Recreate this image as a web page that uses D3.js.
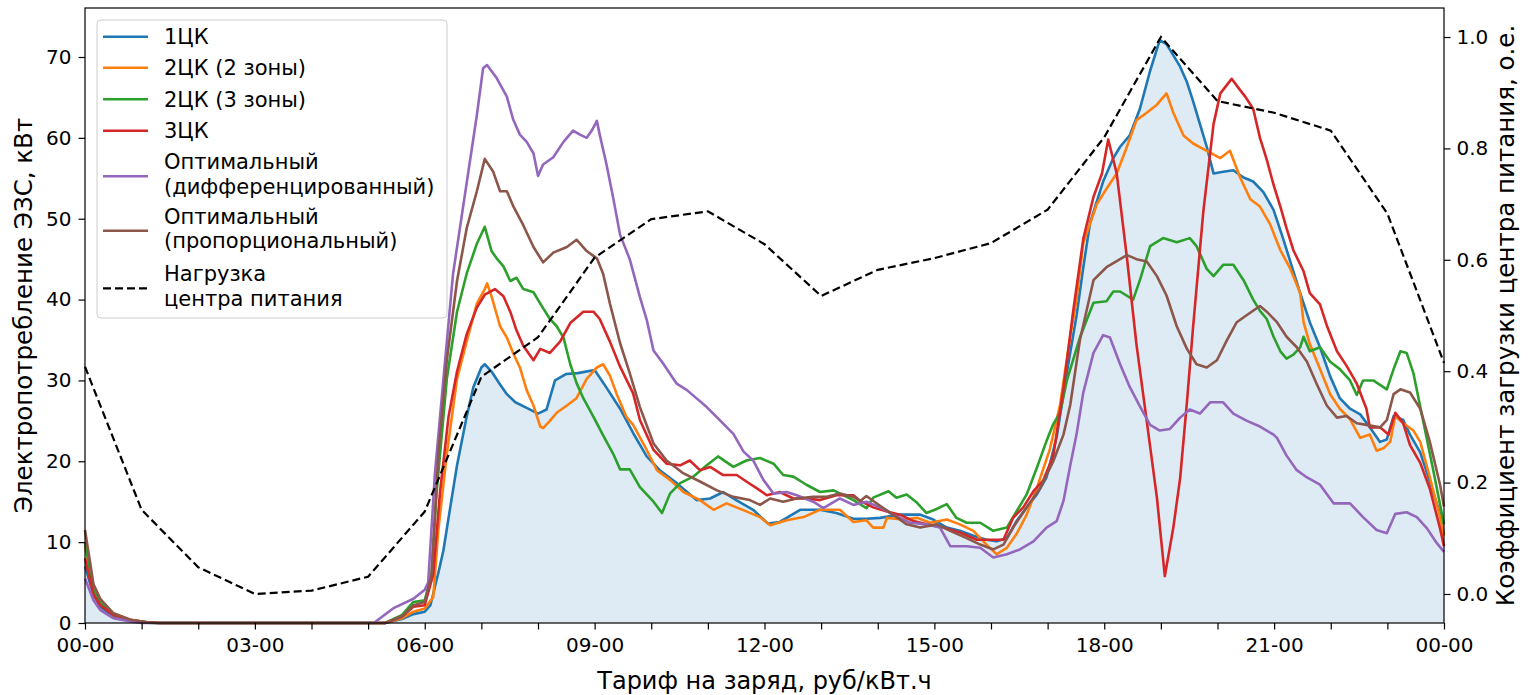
<!DOCTYPE html>
<html>
<head>
<meta charset="utf-8">
<script src="https://cdn.jsdelivr.net/npm/d3@7"></script>
<style>
  body { margin: 0; background: #fff; }
  text { font-family: "DejaVu Sans", sans-serif; fill: #000; }
</style>
</head>
<body>
<svg id="chart" width="1529" height="695"></svg>
<script>
// x tick labels, every 3 hours
var xTickLabels = ["00-00", "03-00", "06-00", "09-00", "12-00", "15-00", "18-00", "21-00", "00-00"]

// load of the supply centre, hourly (right axis)
var loadHours = d3.range(0, 25)
var loadCoef = [0.408, 0.151, 0.048, 0.0, 0.006, 0.031, 0.148, 0.39, 0.461, 0.604, 0.673, 0.687,
                0.628, 0.535, 0.582, 0.603, 0.630, 0.69, 0.82, 1.0, 0.885, 0.864, 0.832, 0.683, 0.415]

// EV charging consumption, [hour, kW]
var tariff1 = [[0,7.0],[0.15,3.5],[0.27,2.0],[0.5,0.8],[0.8,0.3],[1.1,0.05],[1.3,0],[5.3,0],[5.6,0.5],[5.8,1.1],[6.0,1.4],[6.1,2.2],[6.25,6.5],[6.33,9.0],[6.45,14.3],[6.57,19.5],[6.74,25.5],[6.86,29.2],[7.0,31.6],[7.06,32.0],[7.18,31.1],[7.33,29.5],[7.45,28.3],[7.6,27.3],[7.8,26.6],[8.0,25.9],[8.15,26.4],[8.3,30.0],[8.5,30.8],[8.7,30.9],[9.0,31.3],[9.2,29.2],[9.45,26.5],[9.68,23.5],[9.92,20.6],[10.15,18.9],[10.45,17.3],[10.8,15.2],[11.04,15.4],[11.27,16.2],[11.5,15.2],[11.8,14.0],[12.06,12.3],[12.27,12.5],[12.63,14.0],[12.98,14.0],[13.27,13.6],[13.57,12.9],[13.8,12.9],[14.04,13.0],[14.39,13.4],[14.75,13.4],[14.98,12.8],[15.22,11.8],[15.45,11.4],[15.69,10.8],[15.92,10.3],[16.1,10.1],[16.28,10.5],[16.45,12.6],[16.63,14.3],[16.81,15.9],[16.98,18.0],[17.16,23.0],[17.34,31.0],[17.51,38.0],[17.63,44.0],[17.75,49.5],[17.98,54.6],[18.16,57.5],[18.28,58.9],[18.45,60.3],[18.63,63.6],[18.81,68.3],[18.98,72.1],[19.1,71.6],[19.22,70.2],[19.34,68.8],[19.46,66.9],[19.57,64.5],[19.69,61.7],[19.81,58.9],[19.93,55.6],[20.1,55.8],[20.28,56.0],[20.46,55.1],[20.63,54.6],[20.81,53.3],[20.99,51.1],[21.16,47.5],[21.34,43.5],[21.46,40.8],[21.63,37.2],[21.81,34.1],[21.99,30.5],[22.16,27.8],[22.34,26.5],[22.52,25.8],[22.69,24.2],[22.87,22.4],[22.99,22.7],[23.11,25.6],[23.28,25.1],[23.4,23.3],[23.58,21.1],[23.75,17.5],[23.93,13.5],[24.0,11.0]]

var tariff2z2 = [[0,9.5],[0.15,4.5],[0.27,2.8],[0.5,1.2],[0.8,0.4],[1.1,0.1],[1.3,0],[5.3,0],[5.6,0.6],[5.8,1.4],[6.0,1.8],[6.15,3.2],[6.24,11.5],[6.39,20.9],[6.57,30.2],[6.74,34.8],[6.92,39.5],[7.06,41.3],[7.1,42.0],[7.18,40.4],[7.33,36.7],[7.45,35.3],[7.56,33.4],[7.68,31.6],[7.8,28.8],[7.92,26.9],[8.04,24.3],[8.09,24.1],[8.21,25.0],[8.33,26.0],[8.51,26.9],[8.68,27.8],[8.86,30.2],[9.04,31.6],[9.15,32.0],[9.27,30.6],[9.39,28.3],[9.56,25.5],[9.68,24.5],[9.92,21.4],[10.1,18.9],[10.33,17.7],[10.57,16.2],[10.86,15.2],[11.1,14.0],[11.33,14.8],[11.68,13.8],[11.92,13.1],[12.1,12.1],[12.39,12.7],[12.69,13.1],[12.98,14.0],[13.33,14.0],[13.57,12.5],[13.8,12.7],[13.92,11.8],[14.1,11.8],[14.16,13.0],[14.45,12.8],[14.7,13.0],[14.92,12.4],[15.22,12.8],[15.45,12.2],[15.69,11.4],[15.92,9.7],[16.1,8.5],[16.28,9.3],[16.45,11.0],[16.63,13.4],[16.81,16.7],[17.04,21.5],[17.22,27.0],[17.4,35.5],[17.51,40.0],[17.63,47.0],[17.87,51.8],[18.04,53.7],[18.22,55.6],[18.4,58.9],[18.57,62.2],[18.75,63.1],[18.93,64.1],[19.1,65.5],[19.22,63.1],[19.4,60.3],[19.57,59.3],[19.81,58.4],[20.05,57.5],[20.22,58.4],[20.4,55.1],[20.58,52.4],[20.75,51.5],[20.93,49.3],[21.11,46.1],[21.28,43.9],[21.46,40.8],[21.52,37.2],[21.63,34.5],[21.81,31.4],[21.99,28.3],[22.16,26.5],[22.34,25.2],[22.52,22.9],[22.69,23.3],[22.81,21.3],[22.93,21.6],[23.05,22.4],[23.14,25.6],[23.28,24.7],[23.46,23.8],[23.58,22.4],[23.75,18.0],[23.93,13.1],[24.0,10.8]]

var tariff2z3 = [[0,10.0],[0.15,4.0],[0.27,2.5],[0.5,1.0],[0.8,0.3],[1.1,0.05],[1.3,0],[5.3,0],[5.6,1.0],[5.8,2.6],[6.0,2.8],[6.12,6.0],[6.21,16.2],[6.39,30.2],[6.57,38.5],[6.74,43.2],[6.92,46.9],[7.06,49.0],[7.18,46.0],[7.27,45.1],[7.39,44.1],[7.51,42.3],[7.62,42.7],[7.74,41.3],[7.92,40.9],[8.04,39.5],[8.21,37.6],[8.33,36.7],[8.45,35.3],[8.57,32.0],[8.68,29.7],[8.8,27.8],[8.98,25.5],[9.15,23.2],[9.33,20.9],[9.45,19.0],[9.62,19.0],[9.8,16.8],[10.04,15.0],[10.19,13.6],[10.33,16.0],[10.51,17.3],[10.74,18.1],[10.98,19.5],[11.18,20.6],[11.45,19.3],[11.68,20.1],[11.92,20.4],[12.16,19.7],[12.33,18.3],[12.51,18.1],[12.74,17.1],[12.98,16.2],[13.22,16.4],[13.57,15.2],[13.8,14.2],[13.92,15.5],[14.19,16.3],[14.33,15.5],[14.51,15.9],[14.69,14.9],[14.86,13.6],[15.04,14.1],[15.22,14.7],[15.39,13.0],[15.57,12.4],[15.81,12.4],[16.04,11.4],[16.28,11.8],[16.45,13.8],[16.63,15.9],[16.81,19.2],[16.98,22.5],[17.1,24.6],[17.22,26.0],[17.34,30.0],[17.57,35.3],[17.81,39.6],[18.04,39.8],[18.16,41.0],[18.28,41.0],[18.51,40.0],[18.63,42.4],[18.81,46.6],[19.04,47.6],[19.28,47.1],[19.51,47.6],[19.63,46.6],[19.81,43.8],[19.93,42.9],[20.1,44.3],[20.28,44.3],[20.46,42.4],[20.63,40.0],[20.75,38.6],[20.87,37.6],[20.99,35.4],[21.11,33.6],[21.22,32.7],[21.34,33.2],[21.46,34.1],[21.52,35.4],[21.63,33.6],[21.81,34.1],[21.99,32.3],[22.16,31.4],[22.34,30.0],[22.46,28.2],[22.57,30.0],[22.75,30.0],[22.99,28.9],[23.11,31.4],[23.23,33.6],[23.34,33.4],[23.46,30.9],[23.64,24.7],[23.81,18.9],[24.0,12.2]]

var tariff3 = [[0,8.0],[0.15,3.5],[0.27,2.2],[0.5,1.0],[0.8,0.4],[1.1,0.1],[1.3,0],[5.3,0],[5.6,0.8],[5.8,2.0],[6.0,2.2],[6.15,6.0],[6.27,16.2],[6.42,25.5],[6.57,31.1],[6.74,35.7],[6.92,39.0],[7.06,40.6],[7.24,41.3],[7.39,40.4],[7.51,38.5],[7.62,36.2],[7.74,34.3],[7.92,32.5],[8.04,33.9],[8.21,33.4],[8.39,34.8],[8.57,37.1],[8.8,38.5],[8.98,38.5],[9.09,37.6],[9.27,34.8],[9.45,31.7],[9.68,28.4],[9.8,25.1],[10.04,21.4],[10.27,19.7],[10.51,19.5],[10.68,20.1],[10.86,18.9],[11.04,19.3],[11.27,18.3],[11.51,18.3],[11.68,17.5],[11.92,16.4],[12.04,15.8],[12.27,16.2],[12.51,15.4],[12.75,15.4],[12.98,15.2],[13.27,15.8],[13.57,15.8],[13.69,15.1],[13.92,14.3],[14.16,13.8],[14.39,13.4],[14.63,12.6],[14.86,12.2],[15.16,11.8],[15.45,11.2],[15.75,10.3],[15.98,10.3],[16.22,10.3],[16.39,13.0],[16.57,14.3],[16.75,16.3],[16.92,17.6],[17.1,20.7],[17.28,29.0],[17.45,38.5],[17.63,47.5],[17.81,52.7],[17.96,55.6],[18.07,59.8],[18.22,55.6],[18.4,45.2],[18.57,34.4],[18.75,25.0],[18.93,15.5],[19.07,5.8],[19.22,11.8],[19.34,17.9],[19.46,27.3],[19.57,36.7],[19.75,50.9],[19.93,61.7],[20.05,65.5],[20.25,67.3],[20.4,65.9],[20.49,65.1],[20.63,63.6],[20.75,60.0],[20.87,57.3],[20.99,54.2],[21.11,51.5],[21.22,48.8],[21.34,46.1],[21.52,43.5],[21.63,40.8],[21.81,39.4],[21.93,36.8],[22.11,33.6],[22.28,31.8],[22.46,29.6],[22.63,26.5],[22.69,24.2],[22.87,24.2],[23.02,23.3],[23.14,26.0],[23.28,24.7],[23.4,22.0],[23.58,19.8],[23.75,16.6],[23.93,11.7],[24.0,9.5]]

var optimalDiff = [[0,5.5],[0.15,2.8],[0.27,1.6],[0.5,0.6],[0.8,0.2],[1.0,0],[5.1,0],[5.44,1.8],[5.8,3.0],[6.0,4.1],[6.06,5.0],[6.18,18.5],[6.33,30.2],[6.5,43.2],[6.74,54.4],[6.92,62.8],[7.03,68.6],[7.1,69.0],[7.27,67.4],[7.45,65.1],[7.56,62.3],[7.68,60.4],[7.8,59.5],[7.92,58.1],[8.0,55.3],[8.09,56.7],[8.27,57.6],[8.45,59.5],[8.62,60.9],[8.74,60.4],[8.86,60.0],[8.95,60.9],[9.04,62.1],[9.09,60.4],[9.21,56.7],[9.33,52.5],[9.45,48.0],[9.62,45.0],[9.8,40.3],[9.92,37.5],[10.04,33.7],[10.21,32.1],[10.45,29.6],[10.63,28.8],[10.98,26.7],[11.21,25.1],[11.45,23.4],[11.63,21.2],[11.8,20.1],[11.98,17.7],[12.16,16.0],[12.39,16.2],[12.57,15.8],[12.86,15.0],[13.04,14.2],[13.33,15.4],[13.57,14.6],[13.8,15.0],[14.04,14.3],[14.27,13.4],[14.57,12.4],[14.86,12.2],[15.1,11.8],[15.28,9.5],[15.57,9.5],[15.81,9.3],[16.04,8.1],[16.28,8.5],[16.51,9.1],[16.75,10.1],[16.98,11.8],[17.16,12.6],[17.28,15.1],[17.4,19.5],[17.51,23.3],[17.63,28.5],[17.81,33.4],[17.98,35.6],[18.1,35.3],[18.28,32.0],[18.45,29.2],[18.63,26.8],[18.81,24.5],[18.98,23.8],[19.16,24.0],[19.34,25.4],[19.51,26.4],[19.69,25.9],[19.87,27.3],[20.1,27.3],[20.28,25.9],[20.52,25.0],[20.75,24.3],[20.99,23.3],[21.05,22.9],[21.22,20.7],[21.4,18.9],[21.58,18.0],[21.81,17.1],[22.05,14.8],[22.34,14.8],[22.57,13.1],[22.81,11.5],[22.99,11.1],[23.14,13.5],[23.34,13.7],[23.52,13.1],[23.7,11.7],[23.87,9.9],[24.0,8.8]]

var optimalProp = [[0,11.5],[0.15,4.8],[0.27,3.0],[0.5,1.2],[0.8,0.4],[1.1,0.1],[1.3,0],[5.3,0],[5.6,0.8],[5.8,2.2],[6.0,2.6],[6.12,6.0],[6.24,20.9],[6.39,32.5],[6.57,42.3],[6.74,48.8],[6.92,53.4],[7.06,57.4],[7.21,55.8],[7.33,53.4],[7.45,53.4],[7.56,51.6],[7.74,49.2],[7.92,46.5],[8.09,44.6],[8.27,45.8],[8.51,46.5],[8.68,47.4],[8.86,46.0],[9.04,45.1],[9.15,43.2],[9.27,39.5],[9.45,34.6],[9.62,30.9],[9.8,26.7],[10.04,22.2],[10.27,20.1],[10.57,18.5],[10.86,17.5],[11.16,16.4],[11.45,15.6],[11.74,15.2],[11.92,14.6],[12.1,15.4],[12.33,15.0],[12.57,15.4],[12.86,15.6],[13.1,15.6],[13.33,16.0],[13.57,15.6],[13.69,15.1],[13.8,15.7],[14.04,14.5],[14.27,13.4],[14.51,12.2],[14.75,11.8],[15.04,12.2],[15.28,11.4],[15.57,10.5],[15.81,9.7],[16.04,9.1],[16.22,9.7],[16.39,11.8],[16.63,14.3],[16.87,16.7],[17.1,20.0],[17.28,23.3],[17.4,27.0],[17.57,35.0],[17.81,42.4],[18.04,44.0],[18.28,45.0],[18.4,45.5],[18.57,45.0],[18.75,44.7],[18.93,42.9],[19.1,40.5],[19.28,36.7],[19.46,33.9],[19.63,32.0],[19.81,31.6],[19.99,32.5],[20.16,34.9],[20.34,37.2],[20.52,38.1],[20.75,39.2],[20.87,38.5],[21.05,37.2],[21.22,35.4],[21.4,34.1],[21.58,32.3],[21.75,29.6],[21.93,26.9],[22.11,25.4],[22.28,25.6],[22.46,24.7],[22.63,24.5],[22.87,24.2],[22.99,25.1],[23.11,28.3],[23.23,28.9],[23.4,28.5],[23.58,26.5],[23.75,22.4],[23.93,17.1],[24.0,14.4]]

var seriesData = [tariff1, tariff2z2, tariff2z3, tariff3, optimalDiff, optimalProp]
var seriesNames = ["1ЦК", "2ЦК (2 зоны)", "2ЦК (3 зоны)", "3ЦК",
                   "Оптимальный\n(дифференцированный)", "Оптимальный\n(пропорциональный)"]
var loadName = "Нагрузка\nцентра питания"
var colors = ["#1f77b4", "#ff7f0e", "#2ca02c", "#d62728", "#9467bd", "#8c564b"]

// layout
var margin = {top: 8, right: 85, bottom: 72, left: 85},
    W = 1529, H = 695,
    width = W - margin.left - margin.right,
    height = H - margin.top - margin.bottom

var svg = d3.select("#chart")
var g = svg.append("g").attr("transform", "translate(" + margin.left + "," + margin.top + ")")

var x = d3.scaleLinear().domain([0, 24]).range([0, width])
var y = d3.scaleLinear().domain([0, 76.06]).range([height, 0])
var y2 = d3.scaleLinear().domain([-0.0521, 1.0521]).range([height, 0])

// fill under 1ЦК
g.append("path")
  .datum(tariff1)
  .attr("fill", "#1f77b4")
  .attr("fill-opacity", 0.15)
  .attr("d", d3.area()
    .x(function(d) { return x(d[0]) })
    .y0(y(0))
    .y1(function(d) { return y(d[1]) }))

var line = d3.line()
  .x(function(d) { return x(d[0]) })
  .y(function(d) { return y(d[1]) })

seriesData.forEach(function(s, i) {
  g.append("path")
    .datum(s)
    .attr("fill", "none")
    .attr("stroke", colors[i])
    .attr("stroke-width", 2.6)
    .attr("stroke-linejoin", "round")
    .attr("d", line)
})

// load line (right axis)
var dash = "8,4"
g.append("path")
  .datum(loadHours.map(function(h, i) { return [h, loadCoef[i]] }))
  .attr("fill", "none")
  .attr("stroke", "#000")
  .attr("stroke-width", 2.2)
  .attr("stroke-dasharray", dash)
  .attr("d", d3.line()
    .x(function(d) { return x(d[0]) })
    .y(function(d) { return y2(d[1]) }))

// axes
var tickFont = 20
var xAxis = g.append("g")
  .attr("transform", "translate(0," + height + ")")
  .call(d3.axisBottom(x).tickValues(d3.range(0, 25)).tickSize(6.5).tickPadding(8.5)
    .tickFormat(function(h) { return h % 3 === 0 ? xTickLabels[h / 3] : "" }))
var yAxis = g.append("g")
  .call(d3.axisLeft(y).tickValues(d3.range(0, 71, 10)).tickSize(6.5).tickPadding(7))
var y2Axis = g.append("g")
  .attr("transform", "translate(" + width + ",0)")
  .call(d3.axisRight(y2).tickValues([0, 0.2, 0.4, 0.6, 0.8, 1.0]).tickSize(6.5).tickPadding(6)
    .tickFormat(d3.format(".1f")))

;[xAxis, yAxis, y2Axis].forEach(function(a) {
  a.select(".domain").remove()
  a.selectAll(".tick line").attr("stroke", "#000").attr("stroke-width", 1.2)
  a.selectAll(".tick text").style("font-size", tickFont + "px").attr("fill", "#000")
    .style("font-family", "DejaVu Sans")
})

// frame
g.append("rect")
  .attr("width", width).attr("height", height)
  .attr("fill", "none").attr("stroke", "#000").attr("stroke-width", 1.2)

// axis labels
svg.append("text")
  .attr("x", margin.left + width / 2).attr("y", 689)
  .attr("text-anchor", "middle").style("font-size", "24px")
  .text("Тариф на заряд, руб/кВт.ч")
svg.append("text")
  .attr("transform", "translate(32," + (margin.top + height / 2) + ") rotate(-90)")
  .attr("text-anchor", "middle").style("font-size", "24.5px")
  .text("Электропотребление ЭЗС, кВт")
svg.append("text")
  .attr("transform", "translate(1514," + (margin.top + height / 2) + ") rotate(-90)")
  .attr("text-anchor", "middle").style("font-size", "24.5px")
  .text("Коэффициент загрузки центра питания, о.е.")

// legend
var legend = svg.append("g").attr("transform", "translate(97,20)")
legend.append("rect")
  .attr("width", 350).attr("height", 298).attr("rx", 4)
  .attr("fill", "#fff").attr("fill-opacity", 0.8)
  .attr("stroke", "#cccccc").attr("stroke-width", 1)

var legendItems = seriesNames.map(function(n, i) { return {name: n, color: colors[i], dash: null} })
legendItems.push({name: loadName, color: "#000", dash: dash})
var rowY = [16.7, 47.7, 79.3, 110.7, 154.3, 208.7, 266.3]
var lineH = 24.5

legendItems.forEach(function(it, i) {
  var parts = it.name.split("\n")
  var row = legend.append("g").attr("transform", "translate(0," + rowY[i] + ")")
  row.append("line")
    .attr("x1", 6).attr("x2", 51)
    .attr("y1", parts.length > 1 ? 2 : 0).attr("y2", parts.length > 1 ? 2 : 0)
    .attr("stroke", it.color).attr("stroke-width", it.dash ? 2.2 : 2.6)
    .attr("stroke-dasharray", it.dash)
  var t = row.append("text").attr("x", 67).style("font-size", "21px")
  parts.forEach(function(p, k) {
    t.append("tspan")
      .attr("x", 67)
      .attr("y", (k - (parts.length - 1) / 2) * lineH)
      .attr("dy", "0.35em")
      .text(p)
  })
})
</script>
</body>
</html>
